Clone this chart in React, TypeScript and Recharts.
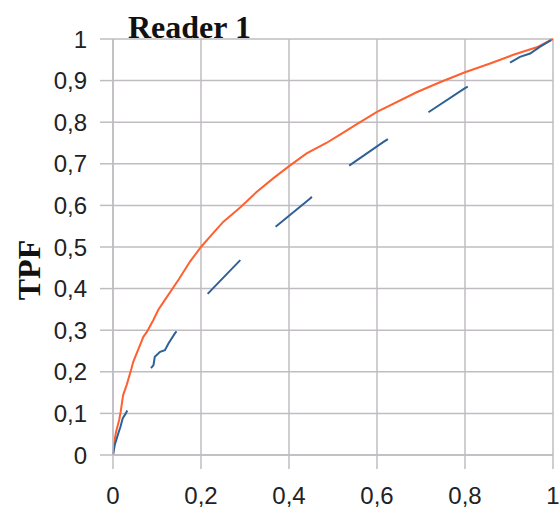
import { LineChart, Line, XAxis, YAxis, CartesianGrid } from 'recharts';

// Reader 1 ROC curves (FPF on x, TPF on y)
const fittedFpf = [
  0, 0.003, 0.007, 0.014, 0.0175, 0.023, 0.031, 0.042, 0.046, 0.069, 0.077, 0.092, 0.103, 0.118,
  0.15, 0.175, 0.2, 0.224, 0.251, 0.289, 0.327, 0.364, 0.401, 0.44, 0.485, 0.516, 0.557, 0.6,
  0.69, 0.743, 0.8, 0.857, 0.91, 0.963, 1,
];
const fittedTpf = [
  0, 0.032, 0.056, 0.084, 0.104, 0.144, 0.168, 0.208, 0.224, 0.284, 0.296, 0.325, 0.349, 0.373,
  0.423, 0.465, 0.5, 0.529, 0.561, 0.595, 0.633, 0.665, 0.695, 0.725, 0.75, 0.77, 0.797, 0.825,
  0.872, 0.896, 0.92, 0.941, 0.962, 0.98, 1,
];

const empiricalFpf = [
  0, 0.004, 0.012, 0.017, 0.022, 0.029, 0.08, 0.092, 0.095, 0.107, 0.118, 0.126, 0.141, 0.213,
  0.287, 0.363, 0.446, 0.532, 0.614, 0.707, 0.8, 0.902, 0.925, 0.948, 0.97, 1,
];
const empiricalTpf = [
  0, 0.024, 0.052, 0.068, 0.088, 0.1, 0.2, 0.216, 0.236, 0.248, 0.252, 0.268, 0.293, 0.385,
  0.466, 0.543, 0.615, 0.692, 0.752, 0.817, 0.882, 0.943, 0.957, 0.965, 0.981, 1,
];

const xTicks = [0, 0.2, 0.4, 0.6, 0.8, 1];
const yTicks = [0, 0.1, 0.2, 0.3, 0.4, 0.5, 0.6, 0.7, 0.8, 0.9, 1];

const title = 'Reader 1';
const yLabel = 'TPF';

const fitted = fittedFpf.map((x, i) => ({ x, y: fittedTpf[i] }));
const empirical = empiricalFpf.map((x, i) => ({ x, y: empiricalTpf[i] }));

const GRID = '#c0bcc2';
const tickStyle = { fontFamily: 'Liberation Sans, Arial, sans-serif', fontSize: 24, fill: '#222' };
const fmt = (v: number) => (v === 0 || v === 1 ? String(v) : v.toFixed(1).replace('.', ','));

export default function App() {
  return (
    <div style={{ position: 'absolute', left: 0, top: 0, width: 560, height: 512, background: '#fff' }}>
      <LineChart width={560} height={512} margin={{ top: 39, right: 7, bottom: 0, left: 0 }}>
        <CartesianGrid stroke={GRID} strokeWidth={1.5} />
        <XAxis
          type="number"
          dataKey="x"
          domain={[0, 1]}
          ticks={xTicks}
          tickFormatter={fmt}
          height={57}
          tickSize={14}
          tickMargin={18}
          tick={tickStyle}
          stroke={GRID}
          axisLine={{ stroke: GRID, strokeWidth: 1.5 }}
          tickLine={{ stroke: GRID, strokeWidth: 1.5 }}
        />
        <YAxis
          type="number"
          dataKey="y"
          domain={[0, 1]}
          ticks={yTicks}
          tickFormatter={fmt}
          width={113}
          tickSize={13}
          tickMargin={13}
          tick={tickStyle}
          stroke={GRID}
          axisLine={{ stroke: GRID, strokeWidth: 1.5 }}
          tickLine={{ stroke: GRID, strokeWidth: 1.5 }}
        />
        <Line
          data={fitted}
          dataKey="y"
          type="linear"
          stroke="#ff6030"
          strokeWidth={2}
          dot={false}
          isAnimationActive={false}
        />
        <Line
          data={empirical}
          dataKey="y"
          type="linear"
          stroke="#2f6199"
          strokeWidth={2}
          strokeDasharray="47 48.6"
          dot={false}
          isAnimationActive={false}
        />
      </LineChart>
      <svg width={560} height={512} style={{ position: 'absolute', left: 0, top: 0, pointerEvents: 'none' }}>
        <text x={128} y={38} fontFamily="Liberation Serif, Times New Roman, serif" fontWeight="bold" fontSize={32} fill="#111">
          {title}
        </text>
        <text
          x={40}
          y={270}
          transform="rotate(-90, 40, 270)"
          textAnchor="middle"
          fontFamily="Liberation Serif, Times New Roman, serif"
          fontWeight="bold"
          fontSize={32}
          fill="#111"
        >
          {yLabel}
        </text>
      </svg>
    </div>
  );
}
